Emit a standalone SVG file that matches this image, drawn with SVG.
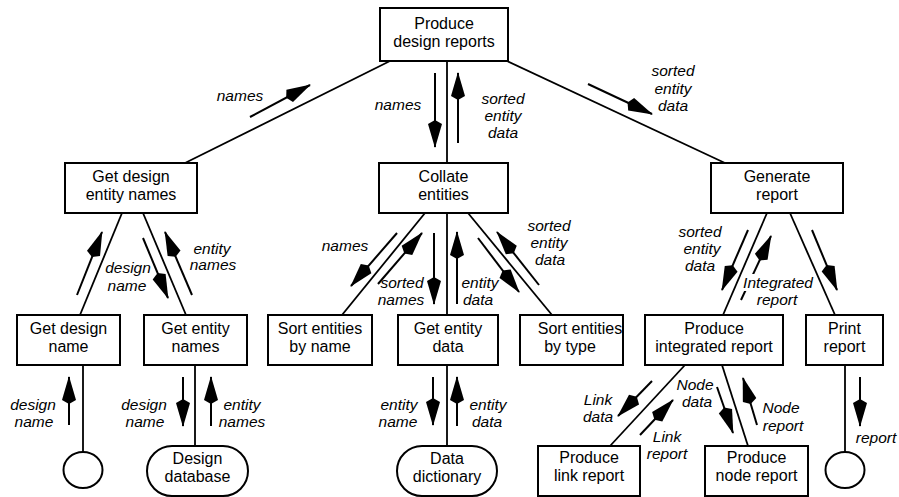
<svg xmlns="http://www.w3.org/2000/svg" width="899" height="497" viewBox="0 0 899 497">
  <style>
    .box { fill: #fff; stroke: #000; stroke-width: 2; }
    .node-text { font-family: "Liberation Sans", Arial, sans-serif; font-size: 16px; fill: #000; text-anchor: middle; }
    .link { stroke: #000; stroke-width: 1.8; fill: none; }
    .flow { stroke: #000; stroke-width: 2; fill: none; marker-end: url(#head); }
    .label { font-family: "Liberation Sans", Arial, sans-serif; font-size: 15.5px; font-style: italic; fill: #000; text-anchor: middle; }
  </style>
  <defs>
    <marker id="head" markerUnits="userSpaceOnUse" markerWidth="30" markerHeight="16" viewBox="-29 -8 30 16" refX="-1" refY="0" orient="auto">
      <path d="M0,0 L-24,-7 L-28,0 L-24,7 Z" fill="#000"/>
    </marker>
  </defs>
  <rect width="899" height="497" fill="#fff"/>

  <!-- connectors between processes -->
  <g id="connectors">
    <line class="link" x1="390" y1="61" x2="185" y2="163"/>
    <line class="link" x1="447" y1="61" x2="447" y2="163"/>
    <line class="link" x1="507" y1="61" x2="725" y2="163"/>
    <line class="link" x1="122" y1="213" x2="80" y2="315"/>
    <line class="link" x1="143" y1="213" x2="186" y2="315"/>
    <line class="link" x1="425" y1="213" x2="342" y2="315"/>
    <line class="link" x1="447" y1="213" x2="447" y2="315"/>
    <line class="link" x1="468" y1="213" x2="552" y2="315"/>
    <line class="link" x1="767" y1="213" x2="723" y2="315"/>
    <line class="link" x1="790" y1="213" x2="835" y2="315"/>
    <line class="link" x1="83" y1="365" x2="83" y2="452"/>
    <line class="link" x1="195" y1="365" x2="195" y2="446"/>
    <line class="link" x1="447" y1="365" x2="447" y2="446"/>
    <line class="link" x1="685" y1="365" x2="610" y2="446"/>
    <line class="link" x1="722" y1="365" x2="748" y2="446"/>
    <line class="link" x1="845" y1="365" x2="845" y2="452"/>

    <!-- data flow arrows -->
    <line class="flow" x1="250" y1="117" x2="310" y2="85"/>
    <line class="flow" x1="435" y1="73" x2="435" y2="147"/>
    <line class="flow" x1="458" y1="143" x2="458" y2="73"/>
    <line class="flow" x1="588" y1="84" x2="652" y2="114"/>

    <line class="flow" x1="77" y1="295" x2="102" y2="232"/>
    <line class="flow" x1="143" y1="238" x2="168" y2="298"/>
    <line class="flow" x1="192" y1="295" x2="165" y2="232"/>

    <line class="flow" x1="397" y1="233" x2="351" y2="286"/>
    <line class="flow" x1="378" y1="284" x2="422" y2="233"/>
    <line class="flow" x1="434" y1="233" x2="434" y2="304"/>
    <line class="flow" x1="457" y1="304" x2="457" y2="232"/>
    <line class="flow" x1="478" y1="238" x2="519" y2="292"/>
    <line class="flow" x1="539" y1="285" x2="497" y2="232"/>

    <line class="flow" x1="748" y1="230" x2="722" y2="290"/>
    <line class="flow" x1="741" y1="300" x2="771" y2="236"/>
    <line class="flow" x1="812" y1="230" x2="837" y2="290"/>

    <line class="flow" x1="69" y1="425" x2="69" y2="377"/>
    <line class="flow" x1="183" y1="377" x2="183" y2="426"/>
    <line class="flow" x1="211" y1="426" x2="211" y2="377"/>
    <line class="flow" x1="433" y1="377" x2="433" y2="425"/>
    <line class="flow" x1="457" y1="426" x2="457" y2="377"/>

    <line class="flow" x1="652" y1="381" x2="618" y2="416"/>
    <line class="flow" x1="640" y1="435" x2="673" y2="400"/>
    <line class="flow" x1="717" y1="387" x2="733" y2="433"/>
    <line class="flow" x1="757" y1="425" x2="743" y2="378"/>
    <line class="flow" x1="860" y1="377" x2="860" y2="426"/>
  </g>

  <!-- flow labels -->
  <g id="flow-labels">
    <text class="label" x="240" y="101">names</text>
    <text class="label" x="398" y="110">names</text>
    <text class="label" x="503" y="104">sorted</text>
    <text class="label" x="503" y="121">entity</text>
    <text class="label" x="503" y="138">data</text>
    <text class="label" x="673" y="76">sorted</text>
    <text class="label" x="673" y="94">entity</text>
    <text class="label" x="673" y="111">data</text>

    <text class="label" x="128" y="273">design</text>
    <text class="label" x="127" y="291">name</text>
    <text class="label" x="212" y="254">entity</text>
    <text class="label" x="213" y="270">names</text>

    <text class="label" x="345" y="251">names</text>
    <text class="label" x="402" y="288">sorted</text>
    <text class="label" x="401" y="305">names</text>
    <text class="label" x="480" y="288">entity</text>
    <text class="label" x="478" y="305">data</text>
    <text class="label" x="549" y="231">sorted</text>
    <text class="label" x="549" y="248">entity</text>
    <text class="label" x="550" y="265">data</text>

    <text class="label" x="700" y="237">sorted</text>
    <text class="label" x="702" y="254">entity</text>
    <text class="label" x="700" y="271">data</text>
    <rect x="744" y="274" width="72" height="17" fill="#fff"/>
    <text class="label" x="778" y="288">Integrated</text>
    <text class="label" x="777" y="305">report</text>

    <text class="label" x="33" y="410">design</text>
    <text class="label" x="34" y="427">name</text>
    <text class="label" x="144" y="410">design</text>
    <text class="label" x="145" y="427">name</text>
    <text class="label" x="242" y="410">entity</text>
    <text class="label" x="242" y="427">names</text>
    <text class="label" x="399" y="410">entity</text>
    <text class="label" x="398" y="427">name</text>
    <text class="label" x="488" y="410">entity</text>
    <text class="label" x="487" y="427">data</text>

    <text class="label" x="598" y="405">Link</text>
    <text class="label" x="598" y="422">data</text>
    <text class="label" x="667" y="442">Link</text>
    <text class="label" x="667" y="459">report</text>
    <text class="label" x="695" y="390">Node</text>
    <text class="label" x="697" y="407">data</text>
    <text class="label" x="781" y="413">Node</text>
    <text class="label" x="783" y="431">report</text>
    <text class="label" x="876" y="443">report</text>
  </g>

  <!-- processes -->
  <g id="produce-design-reports">
    <rect class="box" x="380" y="8" width="128" height="53"/>
    <text class="node-text" x="444" y="29">Produce</text>
    <text class="node-text" x="444" y="47">design reports</text>
  </g>
  <g id="get-design-entity-names">
    <rect class="box" x="65" y="163" width="132" height="50"/>
    <text class="node-text" x="131" y="182">Get design</text>
    <text class="node-text" x="131" y="200">entity names</text>
  </g>
  <g id="collate-entities">
    <rect class="box" x="379" y="163" width="129" height="50"/>
    <text class="node-text" x="443.5" y="182">Collate</text>
    <text class="node-text" x="443.5" y="200">entities</text>
  </g>
  <g id="generate-report">
    <rect class="box" x="711" y="163" width="132" height="50"/>
    <text class="node-text" x="777" y="182">Generate</text>
    <text class="node-text" x="777" y="200">report</text>
  </g>
  <g id="get-design-name">
    <rect class="box" x="17" y="315" width="103" height="50"/>
    <text class="node-text" x="68.5" y="334">Get design</text>
    <text class="node-text" x="68.5" y="352">name</text>
  </g>
  <g id="get-entity-names">
    <rect class="box" x="144" y="315" width="103" height="50"/>
    <text class="node-text" x="195.5" y="334">Get entity</text>
    <text class="node-text" x="195.5" y="352">names</text>
  </g>
  <g id="sort-entities-by-name">
    <rect class="box" x="268" y="315" width="104" height="50"/>
    <text class="node-text" x="320" y="334">Sort entities</text>
    <text class="node-text" x="320" y="352">by name</text>
  </g>
  <g id="get-entity-data">
    <rect class="box" x="398" y="315" width="100" height="50"/>
    <text class="node-text" x="448" y="334">Get entity</text>
    <text class="node-text" x="448" y="352">data</text>
  </g>
  <g id="sort-entities-by-type">
    <rect class="box" x="520" y="315" width="103" height="50"/>
    <text class="node-text" x="580" y="334">Sort entities</text>
    <text class="node-text" x="570" y="352">by type</text>
  </g>
  <g id="produce-integrated-report">
    <rect class="box" x="645" y="315" width="138" height="50"/>
    <text class="node-text" x="714" y="334">Produce</text>
    <text class="node-text" x="714" y="352">integrated report</text>
  </g>
  <g id="print-report">
    <rect class="box" x="806" y="315" width="77" height="50"/>
    <text class="node-text" x="844.5" y="334">Print</text>
    <text class="node-text" x="844.5" y="352">report</text>
  </g>
  <g id="produce-link-report">
    <rect class="box" x="538" y="446" width="102" height="50"/>
    <text class="node-text" x="589" y="463">Produce</text>
    <text class="node-text" x="589" y="481">link report</text>
  </g>
  <g id="produce-node-report">
    <rect class="box" x="705" y="446" width="103" height="50"/>
    <text class="node-text" x="756.5" y="463">Produce</text>
    <text class="node-text" x="756.5" y="481">node report</text>
  </g>

  <!-- data stores and terminators -->
  <g id="design-database">
    <rect class="box" x="147" y="446" width="101" height="50" rx="25" ry="25"/>
    <text class="node-text" x="197.5" y="464">Design</text>
    <text class="node-text" x="197.5" y="482">database</text>
  </g>
  <g id="data-dictionary">
    <rect class="box" x="397" y="446" width="100" height="50" rx="25" ry="25"/>
    <text class="node-text" x="447" y="464">Data</text>
    <text class="node-text" x="447" y="482">dictionary</text>
  </g>
  <g id="design-name-source">
    <ellipse class="box" cx="83" cy="470" rx="19.5" ry="18"/>
  </g>
  <g id="report-sink">
    <ellipse class="box" cx="845" cy="470" rx="19.5" ry="18"/>
  </g>
</svg>
